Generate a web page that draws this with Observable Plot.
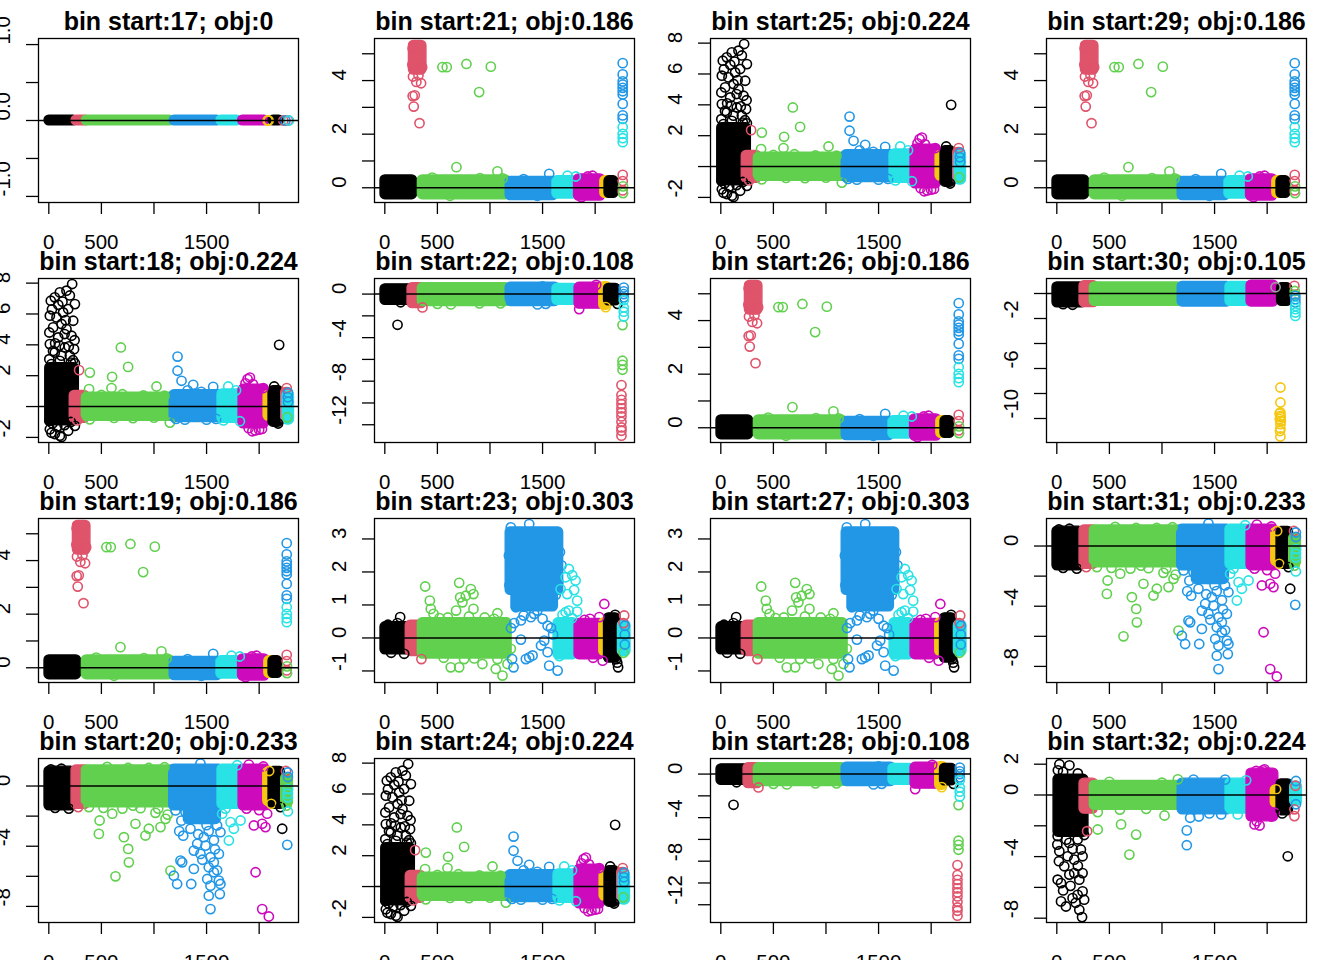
<!DOCTYPE html>
<html><head><meta charset="utf-8">
<script src="https://cdn.jsdelivr.net/npm/d3@7"></script>
<script src="https://cdn.jsdelivr.net/npm/@observablehq/plot@0.6"></script>
<style>
html,body{margin:0;padding:0;background:#fff;}
#chart{position:relative;width:1344px;height:960px;overflow:hidden;background:#fff;}
.panel{position:absolute;width:336px;height:240px;}
.panel svg{overflow:visible !important;background:transparent !important;}
.panel svg [aria-label$="tick"] path,.panel svg .tick line{stroke-width:1.3px;}
</style></head><body><div id="chart"></div>
<script>
// R palette colours: black, red, green, blue, cyan, magenta, yellow, gray
const palette = ["#000000","#DF536B","#61D04F","#2297E6","#28E2E5","#CD0BBC","#F5C710","#9E9E9E"];

const bins = [17,18,19,20,21,22,23,24,25,26,27,28,29,30,31,32];
const objs = ["0","0.224","0.186","0.233","0.186","0.108","0.303","0.224","0.224","0.186","0.303","0.108","0.186","0.105","0.233","0.224"];
const patterns = ["A","C","B","F","B","D","E","C","C","B","E","D","B","G","F","H"];

const xDomain = [-98, 2374];
const xTicks = [0,500,1000,1500,2000];
const xTickLabels = ["0","500","","1500",""];

// y axes per pattern
const yDomainA = [-1.08,1.08], yTicksA = [-1,-0.5,0,0.5,1], yLabelsA = ["-1.0","","0.0","","1.0"];
const yDomainB = [-0.55,5.57], yTicksB = [0,1,2,3,4,5], yLabelsB = ["0","","2","","4",""];
const yDomainC = [-2.33,8.3], yTicksC = [-2,0,2,4,6,8], yLabelsC = ["-2","","2","4","6","8"];
const yDomainD = [-13.63,1.43], yTicksD = [-12,-10,-8,-6,-4,-2,0], yLabelsD = ["-12","","-8","","-4","","0"];
const yDomainE = [-1.35,3.62], yTicksE = [-1,0,1,2,3], yLabelsE = ["-1","0","1","2","3"];
const yDomainF = [-9.07,1.83], yTicksF = [-8,-6,-4,-2,0], yLabelsF = ["-8","","-4","","0"];
const yDomainG = [-11.92,1.2], yTicksG = [-10,-8,-6,-4,-2,0], yLabelsG = ["-10","","-6","","-2",""];
const yDomainH = [-8.28,2.37], yTicksH = [-8,-6,-4,-2,0,2], yLabelsH = ["-8","","-4","","0","2"];

// dense clusters: [xStart, xEnd, yLow, yHigh, colour]
const bandsA = [[5,235,0,0,0],[262,350,0,0,1],[360,1150,0,0,2],[1195,1600,0,0,3],[1640,1790,0,0,4],[1845,2050,0,0,5],[2135,2190,0,0,0]];
const dotsA = [[2080,0,6],[2090,0,6],[2230,0,1],[2250,0,3],[2283,0,4],[2275,0,1]];

const bandsB = [[5,260,-0.25,0.28,0],[275,350,4.4,5.3,1],[360,1150,-0.25,0.28,2],[1195,1600,-0.28,0.22,3],[1640,1790,-0.22,0.25,4],[1845,2050,-0.3,0.32,5],[2095,2120,-0.2,0.25,6],[2135,2175,-0.2,0.25,0]];
const dotsB = [
 [265,5.2,1],[262,4.6,1],[268,4.15,1],[300,3.95,1],[345,3.9,1],[265,3.42,1],[285,3.45,1],[275,3.03,1],[330,2.41,1],[320,4.2,1],[355,4.5,1],
 [548,4.5,2],[589,4.5,2],[776,4.62,2],[1008,4.52,2],[897,3.57,2],[681,0.77,2],[1071,0.61,2],[450,0.38,2],[905,0.36,2],[1120,0.35,2],[620,-0.3,2],
 [1563,0.52,3],[1320,0.32,3],[1450,-0.3,3],
 [1737,0.45,4],[1816,0.42,4],
 [1975,0.45,5],[1930,0.42,5],[1870,-0.35,5],
 [2262,0.48,1],[2262,0.25,1],[2265,0.05,2],[2265,-0.2,2],[2262,-0.1,1],
 [2262,4.65,3],[2262,4.23,3],[2262,3.97,3],[2262,3.85,3],[2262,3.73,3],[2262,3.6,3],[2262,3.48,3],[2262,3.13,3],[2262,2.7,3],[2262,2.57,3],
 [2262,2.26,4],[2262,2.01,4],[2262,1.85,4],[2262,1.7,4]
];

const bandsC = [[12,240,-0.9,2.5,0],[245,340,-0.75,0.7,1],[360,1150,-0.62,0.58,2],[1195,1620,-0.7,0.75,3],[1650,1800,-0.75,0.8,4],[1850,2045,-1.1,1.1,5],[2088,2110,-0.6,0.7,6],[2135,2185,-1.0,1.0,0],[2255,2270,-0.8,0.9,1],[2268,2285,-0.85,0.7,4]];
const dotsC = [
 [222,7.94,0],[168,7.51,0],[105,7.4,0],[57,7.08,0],[19,6.86,0],[248,6.64,0],[184,6.32,0],[136,6.1,0],[10,5.89,0],[73,5.78,0],[232,5.56,0],[121,5.35,0],[41,5.13,0],[168,5.02,0],[5,4.8,0],[216,4.59,0],[89,4.48,0],[245,4.3,0],[10,4.05,0],[152,3.83,0],[240,3.72,0],[57,3.5,0],[200,3.29,0],[5,3.07,0],[105,2.96,0],[248,2.8,0],[25,2.75,0],[150,4.7,0],[200,7.2,0],[90,6.6,0],[30,6.3,0],[160,5.6,0],[60,4.1,0],[120,3.3,0],[230,3.0,0],[190,3.9,0],[100,3.95,0],[40,3.6,0],[210,2.85,0],[130,6.8,0],
 [10,-1.47,0],[57,-1.78,0],[105,-1.89,0],[25,-1.7,0],[121,-1.97,0],[248,-1.25,0],[184,-1.57,0],[5,-0.93,0],[80,-1.3,0],[150,-1.2,0],[210,-1.0,0],[35,-1.1,0],
 [288,2.36,1],[270,-0.9,1],
 [390,2.2,2],[685,3.83,2],[754,2.57,2],[602,1.93,2],[383,1.13,2],[1024,1.3,2],[596,1.2,2],[1151,-1.04,2],[390,-0.83,2],[500,0.75,2],[700,0.8,2],[900,0.72,2],[800,-0.75,2],[620,-0.74,2],[1000,-0.72,2],[1100,0.7,2],
 [1224,3.24,3],[1224,2.32,3],[1262,1.67,3],[1373,1.41,3],[1563,1.28,3],[1294,-0.85,3],[1210,-0.8,3],[1450,0.95,3],[1500,-0.85,3],[1320,1.05,3],[1590,-0.8,3],
 [1706,1.3,4],[1817,-0.95,4],[1780,1.05,4],[1660,-0.9,4],
 [1912,1.88,5],[1890,1.78,5],[2027,-1.45,5],[1965,-1.55,5],[1900,-1.4,5],[2000,-1.5,5],[2040,1.2,5],[1870,1.5,5],[1940,1.45,5],[1935,-1.6,5],
 [2190,4.0,0],[2143,1.3,0],[2180,-1.1,0],
 [2262,1.2,1],[2275,0.9,3],[2275,0.3,3],[2272,0.6,3],[2268,-0.7,2]
];

const bandsD = [[5,240,-0.55,0.45,0],[262,350,-0.85,0.55,1],[360,1150,-0.65,0.55,2],[1195,1620,-0.65,0.6,3],[1640,1800,-0.55,0.5,4],[1850,2045,-0.9,0.6,5],[2085,2110,-1.0,0.65,6],[2130,2195,-0.6,0.5,0]];
const dotsD = [
 [121,-2.82,0],[150,-0.75,0],[358,-1.23,1],[628,-0.95,2],[900,-0.85,2],[1100,-0.85,2],[500,-0.9,2],[1452,-0.95,3],[1530,-0.9,3],[1500,0.7,3],[1848,-1.38,5],[2010,0.85,5],[2100,-1.2,6],[2213,-0.9,0],
 [2250,-8.36,1],[2250,-9.28,1],[2250,-9.71,1],[2250,-10.1,1],[2250,-10.5,1],[2250,-10.87,1],[2250,-11.24,1],[2250,-11.73,1],[2250,-12.25,1],[2250,-12.55,1],[2250,-13.0,1],
 [2260,-2.85,2],[2260,-6.12,2],[2260,-6.5,2],[2260,-6.95,2],
 [2272,0.6,3],[2272,0.25,3],[2272,0,3],[2272,-0.3,3],[2272,-0.56,4],[2272,-1.23,4],[2272,-1.62,4],[2272,-2.06,4]
];

const bandsE = [[5,235,-0.35,0.33,0],[245,345,-0.4,0.38,1],[360,1160,-0.48,0.45,2],[1195,1650,1.45,3.2,3],[1250,1600,0.95,1.45,3],[1650,1790,-0.5,0.45,4],[1850,2045,-0.5,0.43,5],[2085,2110,-0.4,0.45,6],[2130,2195,-0.6,0.6,0],[2262,2290,-0.4,0.38,4]];
const dotsE = [
 [146,0.63,0],[184,-0.48,0],[60,-0.45,0],[120,0.45,0],[30,0.4,0],[348,-0.64,1],
 [384,1.56,2],[707,1.67,2],[428,1.13,2],[437,0.88,2],[463,0.73,2],[770,1.28,2],[818,1.48,2],[843,1.33,2],[716,1.23,2],[738,1.08,2],[843,0.88,2],[678,0.83,2],[1071,0.75,2],[1040,0.58,2],[627,-0.89,2],[707,-0.89,2],[754,-0.64,2],[928,-0.79,2],[1055,-0.94,2],[1119,-1.14,2],[1166,-0.79,2],[1071,-0.64,2],[1198,-0.33,2],[600,0.62,2],[520,0.6,2],[950,0.62,2],[800,0.65,2],[560,-0.6,2],[850,-0.62,2],
 [1294,0.53,3],[1389,0.63,3],[1246,0.93,3],[1320,0.68,3],[1420,0.73,3],[1450,0.83,3],[1500,0.58,3],[1548,0.37,3],[1516,-0.08,3],[1485,-0.23,3],[1548,-0.43,3],[1563,-0.84,3],[1643,-0.99,3],[1373,-0.59,3],[1405,-0.53,3],[1341,-0.64,3],[1294,-0.05,3],[1224,-0.89,3],[1210,-0.64,3],[1200,0.3,3],[1373,3.45,3],[1198,3.35,3],[1627,3.15,3],[1665,2.6,3],[1680,2.2,3],[1650,1.7,3],[1625,1.3,3],[1185,1.6,3],[1180,2.5,3],[1230,0.45,3],[1600,0.1,3],[1580,0.3,3],[1290,1.2,3],[1560,1.2,3],[1330,0.95,3],
 [1750,2.09,4],[1782,1.9,4],[1719,1.84,4],[1814,1.74,4],[1671,1.48,4],[1734,1.33,4],[1829,1.13,4],[1800,1.45,4],[1719,0.78,4],[1750,0.83,4],[1829,0.8,4],[1690,0.7,4],[1660,-0.55,4],[1780,0.6,4],
 [2087,1.03,5],[2039,0.63,5],[2071,-0.69,5],[1900,0.55,5],[1980,-0.6,5],[1950,0.58,5],
 [2218,-0.89,0],[2200,-0.64,0],[2210,-0.75,0],[2190,0.7,0],
 [2276,0.68,1],[2270,0.45,1],[2282,0.37,3],[2282,0.1,3],[2282,-0.2,3],[2270,-0.45,2]
];

const bandsF = [[5,210,-1.3,0.97,0],[262,345,-1.2,1.05,1],[360,1150,-1.1,1.05,2],[1190,1620,-1.3,1.1,3],[1330,1590,-2.2,-1.3,3],[1650,1800,-1.2,1.1,4],[1850,2055,-1.3,1.1,5],[2085,2110,-1.0,0.9,6],[2135,2200,-1.2,0.95,0],[2255,2275,-1.1,0.5,2]];
const dotsF = [
 [190,-1.5,0],[60,-1.45,0],[120,1.15,0],[20,1.1,0],[280,-1.4,1],
 [555,1.27,2],[754,1.2,2],[381,-1.4,2],[483,-2.29,2],[476,-3.18,2],[603,-1.84,2],[714,-3.4,2],[755,-4.18,2],[761,-5.07,2],[634,-6.0,2],[824,-2.51,2],[919,-3.29,2],[951,-2.84,2],[1014,-1.78,2],[1062,-2.73,2],[1110,-2.18,2],[872,-1.47,2],[1157,-5.62,2],[1040,-1.5,2],[700,-1.5,2],[800,-1.3,2],[520,-1.45,2],[1130,-1.9,2],[950,1.2,2],[1100,1.25,2],
 [1442,1.49,3],[1205,-1.62,3],[1300,-1.73,3],[1347,-2.84,3],[1278,-3.3,3],[1379,-4.29,3],[1411,-3.84,3],[1442,-4.51,3],[1490,-3.96,3],[1537,-4.73,3],[1569,-5.07,3],[1617,-4.51,3],[1521,-5.4,3],[1569,-5.73,3],[1617,-6.29,3],[1632,-6.51,3],[1506,-6.18,3],[1537,-6.62,3],[1521,-7.29,3],[1626,-7.18,3],[1537,-8.18,3],[1268,-5.07,3],[1252,-4.96,3],[1189,-5.96,3],[1220,-6.51,3],[1354,-6.51,3],[1379,-5.51,3],[1474,-3.4,3],[1632,-3.07,3],[1600,-2.62,3],[1442,-2.18,3],[1553,-1.84,3],[1240,-3.0,3],[1260,-2.3,3],[1520,-3.0,3],[1570,-3.6,3],[1460,-4.9,3],[1600,-5.6,3],[1500,-2.6,3],[1420,-3.2,3],[1580,-4.2,3],
 [1648,-1.84,4],[1728,-2.4,4],[1823,-2.29,4],[1712,-3.62,4],[1759,-2.84,4],[1791,1.38,4],[1680,-1.5,4],
 [1902,1.42,5],[1950,-2.62,5],[2029,-2.51,5],[2076,-1.84,5],[2060,-2.73,5],[1966,-5.73,5],[2029,-8.18,5],[2092,-8.67,5],[2000,-1.6,5],[1880,-1.5,5],[2040,1.3,5],
 [2114,-1.18,6],[2095,1.0,6],
 [2219,-2.84,0],[2203,-1.4,0],
 [2273,0.6,3],[2273,0.9,3],[2255,1.0,1],[2273,-0.51,4],[2273,-0.75,4],[2273,-1.69,4],[2267,-3.91,3],[2275,-0.2,4],[2260,-1.3,2]
];

const bandsG = [[5,240,-0.72,0.5,0],[262,350,-0.7,0.6,1],[360,1150,-0.6,0.5,2],[1195,1620,-0.65,0.55,3],[1650,1800,-0.6,0.55,4],[1850,2060,-0.65,0.65,5],[2140,2190,-0.6,0.45,0]];
const dotsG = [
 [60,-0.85,0],[150,-0.9,0],[2080,0.5,7],
 [2126,-7.52,6],[2126,-8.72,6],[2126,-9.52,6],[2126,-9.79,6],[2120,-10.05,6],[2126,-10.45,6],[2126,-10.8,6],[2126,-11.44,6],[2118,-9.6,6],[2130,-10.2,6],[2122,-11.0,6],[2128,-9.9,6],
 [2259,0.61,1],[2262,0.2,2],[2262,-0.1,2],[2268,-0.19,3],[2268,-0.45,3],[2268,-0.72,3],[2268,-0.99,4],[2268,-1.25,4],[2268,-1.52,4],[2268,-1.79,4]
];

const bandsH = [[15,255,-2.4,1.0,0],[262,345,-0.9,0.75,1],[360,1150,-0.65,0.6,2],[1195,1620,-0.95,0.75,3],[1650,1800,-0.9,0.75,4],[1850,2060,-1.4,1.4,5],[2080,2100,-0.5,0.3,6],[2135,2200,-1.0,0.7,0],[2265,2285,-0.4,0.55,4]];
const dotsH = [
 [25,2.0,0],[120,1.93,0],[10,1.6,0],[60,1.5,0],[200,1.4,0],[8,-2.67,0],[5,-3.22,0],[24,-3.65,0],[103,-3.98,0],[166,-4.2,0],[245,-3.98,0],[229,-3.54,0],[8,-5.5,0],[40,-5.72,0],[119,-5.17,0],[166,-5.07,0],[245,-5.07,0],[214,-5.5,0],[245,-6.26,0],[198,-6.48,0],[260,-6.8,0],[40,-6.91,0],[87,-7.24,0],[214,-7.46,0],[240,-7.93,0],[150,-6.7,0],[71,-4.63,0],[119,-3.11,0],[198,-2.89,0],[260,-2.6,0],[40,-2.4,0],[150,-3.5,0],[90,-2.9,0],[20,-4.3,0],[200,-4.6,0],[60,-6.2,0],[130,-5.9,0],[180,-7.0,0],
 [288,-2.35,1],
 [389,-2.24,2],[611,-1.91,2],[754,-2.57,2],[690,-3.87,2],[389,-1.11,2],[1024,-1.33,2],[1151,1.02,2],[600,-0.95,2],[850,-0.9,2],[500,0.85,2],[1000,0.8,2],
 [1236,-2.3,3],[1236,-3.26,3],[1268,-1.48,3],[1350,-1.4,3],[1563,-1.26,3],[1300,1.0,3],[1450,-1.2,3],[1600,1.0,3],
 [1720,-1.26,4],[1800,0.95,4],
 [1896,1.57,5],[1975,1.67,5],[1880,-1.91,5],[1900,-1.7,5],[1928,-1.98,5],[2071,-1.15,5],[1940,1.5,5],[2000,1.45,5],[2040,-1.4,5],[1960,1.6,5],
 [2085,0.37,6],[2143,-1.2,0],[2196,-3.98,0],
 [2259,-1.37,1],[2259,-0.93,1],[2274,0.91,3],[2274,-0.6,3],[2270,0.6,1]
];

const specs = {
  A:{domain:yDomainA,ticks:yTicksA,labels:yLabelsA,bands:bandsA,dots:dotsA},
  B:{domain:yDomainB,ticks:yTicksB,labels:yLabelsB,bands:bandsB,dots:dotsB},
  C:{domain:yDomainC,ticks:yTicksC,labels:yLabelsC,bands:bandsC,dots:dotsC},
  D:{domain:yDomainD,ticks:yTicksD,labels:yLabelsD,bands:bandsD,dots:dotsD},
  E:{domain:yDomainE,ticks:yTicksE,labels:yLabelsE,bands:bandsE,dots:dotsE},
  F:{domain:yDomainF,ticks:yTicksF,labels:yLabelsF,bands:bandsF,dots:dotsF},
  G:{domain:yDomainG,ticks:yTicksG,labels:yLabelsG,bands:bandsG,dots:dotsG},
  H:{domain:yDomainH,ticks:yTicksH,labels:yLabelsH,bands:bandsH,dots:dotsH}
};

const chart = document.getElementById("chart");
const font = "'Liberation Sans', Arial, Helvetica, sans-serif";
const xLab = xTicks.map((t,j)=>({v:t,label:xTickLabels[j]})).filter(d=>d.label!=="");

bins.forEach((bin,i) => {
  const s = specs[patterns[i]];
  const col = Math.floor(i/4), row = i%4;
  const dots = s.dots.slice().sort((a,b)=>a[0]-b[0]);
  const yLab = s.ticks.map((t,j)=>({v:t,label:s.labels[j]})).filter(d=>d.label!=="");
  const svg = Plot.plot({
    width:336, height:240, marginLeft:38, marginRight:38, marginTop:38, marginBottom:38,
    style:{background:"transparent", overflow:"visible", fontFamily:font},
    x:{domain:xDomain, ticks:xTicks, tickSize:12, tickFormat:()=>"", label:null},
    y:{domain:s.domain, ticks:s.ticks, tickSize:12, tickFormat:()=>"", label:null},
    color:{type:"identity"},
    marks:[
      Plot.rect(s.bands,{x1:d=>d[0],x2:d=>d[1],y1:d=>d[2],y2:d=>d[3],fill:d=>palette[d[4]],stroke:d=>palette[d[4]],strokeWidth:1.4,inset:-4.8,rx:4.8}),
      Plot.dot(dots,{x:d=>d[0],y:d=>d[1],r:4.6,stroke:d=>palette[d[2]],fill:"none",strokeWidth:1.6}),
      Plot.frame({stroke:"black",strokeWidth:1.3}),
      Plot.ruleY([0],{stroke:"black",strokeWidth:1.5}),
      Plot.text(xLab,{x:"v",text:"label",frameAnchor:"bottom",lineAnchor:"middle",dy:40,fontSize:20.5,fill:"black",fontFamily:font}),
      Plot.text(yLab,{y:"v",text:"label",frameAnchor:"left",lineAnchor:"middle",dx:-35,rotate:-90,fontSize:20.5,fill:"black",fontFamily:font}),
      Plot.text([`bin start:${bin}; obj:${objs[i]}`],{text:d=>d,frameAnchor:"top",dy:-9,lineAnchor:"bottom",fontSize:25,fontWeight:"bold",fill:"black",fontFamily:font})
    ]
  });
  const div = document.createElement("div");
  div.className = "panel";
  div.style.left = (col*336)+"px";
  div.style.top = (row*240)+"px";
  div.appendChild(svg);
  chart.appendChild(div);
});
</script></body></html>
